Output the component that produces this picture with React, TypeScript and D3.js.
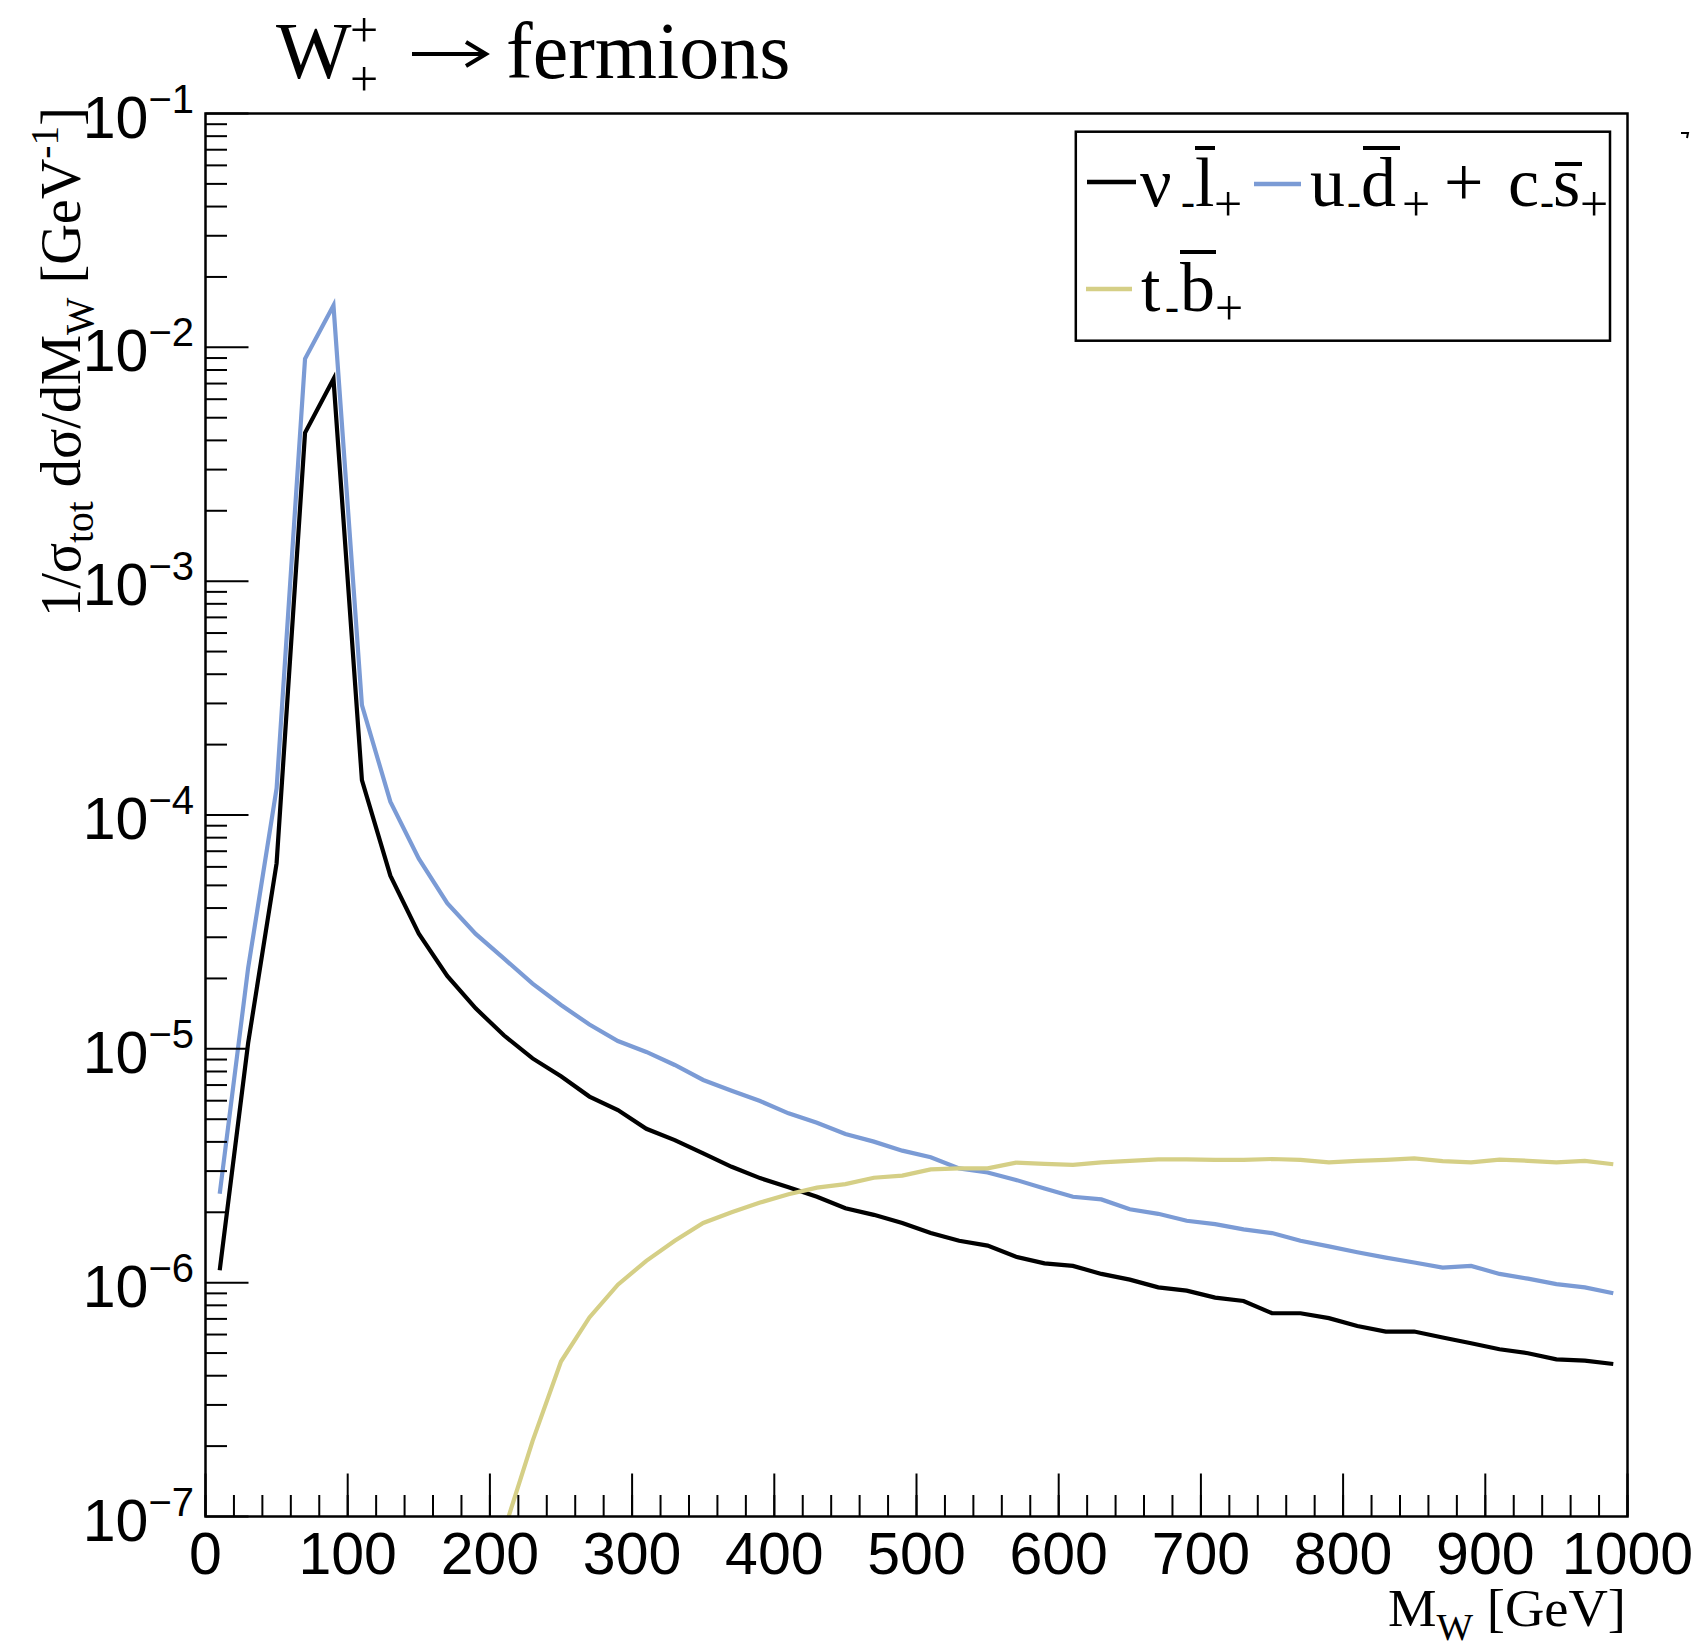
import React from 'react';
import * as d3 from 'd3';

// bin centres of M_W [GeV]
const massBins = [
  10, 30, 50, 70, 90, 110, 130, 150, 170, 190,
  210, 230, 250, 270, 290, 310, 330, 350, 370, 390,
  410, 430, 450, 470, 490, 510, 530, 550, 570, 590,
  610, 630, 650, 670, 690, 710, 730, 750, 770, 790,
  810, 830, 850, 870, 890, 910, 930, 950, 970, 990,
];

// nu l-bar
const nuLepton = [
  1.13e-6, 1.06e-5, 6.22e-5, 4.31e-3, 7.32e-3, 1.41e-4, 5.5e-5, 3.11e-5, 2.05e-5, 1.49e-5,
  1.14e-5, 9.1e-6, 7.63e-6, 6.25e-6, 5.47e-6, 4.55e-6, 4.07e-6, 3.57e-6, 3.13e-6, 2.8e-6,
  2.56e-6, 2.33e-6, 2.08e-6, 1.95e-6, 1.8e-6, 1.63e-6, 1.51e-6, 1.44e-6, 1.29e-6, 1.21e-6,
  1.18e-6, 1.09e-6, 1.03e-6, 9.55e-7, 9.24e-7, 8.63e-7, 8.35e-7, 7.4e-7, 7.4e-7, 7.05e-7,
  6.53e-7, 6.18e-7, 6.18e-7, 5.83e-7, 5.51e-7, 5.19e-7, 4.99e-7, 4.7e-7, 4.64e-7, 4.49e-7,
];

// u d-bar + c s-bar
const udCs = [
  2.4e-6, 2.22e-5, 1.3e-4, 8.93e-3, 1.51e-2, 2.95e-4, 1.14e-4, 6.5e-5, 4.2e-5, 3.1e-5,
  2.43e-5, 1.9e-5, 1.54e-5, 1.27e-5, 1.08e-5, 9.7e-6, 8.53e-6, 7.36e-6, 6.62e-6, 5.98e-6,
  5.3e-6, 4.83e-6, 4.32e-6, 4.01e-6, 3.67e-6, 3.44e-6, 3.08e-6, 2.96e-6, 2.75e-6, 2.53e-6,
  2.33e-6, 2.27e-6, 2.06e-6, 1.97e-6, 1.84e-6, 1.78e-6, 1.69e-6, 1.63e-6, 1.51e-6, 1.43e-6,
  1.35e-6, 1.28e-6, 1.22e-6, 1.16e-6, 1.18e-6, 1.09e-6, 1.04e-6, 9.86e-7, 9.55e-7, 9.01e-7,
];

// t b-bar (empty below threshold)
const topBottom = [
  null, null, null, null, null, null, null, null, null, null,
  8.7e-8, 2.1e-7, 4.6e-7, 7.1e-7, 9.8e-7, 1.24e-6, 1.51e-6, 1.8e-6, 2.0e-6, 2.2e-6,
  2.39e-6, 2.55e-6, 2.64e-6, 2.81e-6, 2.87e-6, 3.05e-6, 3.08e-6, 3.08e-6, 3.26e-6, 3.22e-6,
  3.19e-6, 3.27e-6, 3.32e-6, 3.37e-6, 3.37e-6, 3.35e-6, 3.35e-6, 3.38e-6, 3.35e-6, 3.27e-6,
  3.32e-6, 3.35e-6, 3.4e-6, 3.31e-6, 3.27e-6, 3.36e-6, 3.32e-6, 3.27e-6, 3.32e-6, 3.21e-6,
];

const xTickLabels = ['0', '100', '200', '300', '400', '500', '600', '700', '800', '900', '1000'];
const yDecades = [-7, -6, -5, -4, -3, -2, -1];

const W = 1691;
const H = 1646;
const frame = { left: 205.5, right: 1627.5, top: 113.5, bottom: 1516.5 };
const SERIF = '"Liberation Serif", "Times New Roman", serif';
const SANS = '"Liberation Sans", Arial, Helvetica, sans-serif';

const BLACK = '#000000';
const BLUE = '#7b9bd5';
const YELLOW = '#d5cf86';

type Pt = [number, number | null];

export default function App() {
  const x = d3.scaleLinear().domain([0, 1000]).range([frame.left, frame.right]);
  const y = d3.scaleLog().domain([1e-7, 1e-1]).range([frame.bottom, frame.top]);

  const line = d3
    .line<Pt>()
    .defined((d) => d[1] != null && (d[1] as number) > 0)
    .x((d) => x(d[0]))
    .y((d) => y(d[1] as number));

  const series = [
    { values: nuLepton, color: BLACK },
    { values: udCs, color: BLUE },
    { values: topBottom, color: YELLOW },
  ];

  const xMinor = x.ticks(50);
  const xMajor = x.ticks(10);
  const yAll = y.ticks();
  const isMajorY = (v: number) => Math.abs(Math.log10(v) - Math.round(Math.log10(v))) < 1e-6;

  // small helper for legend glyph pieces
  const piece = (t: string, px: number, py: number, size: number, key: string) => (
    <text key={key} x={px} y={py} fontFamily={SERIF} fontSize={size} fill="#000">
      {t}
    </text>
  );

  return (
    <svg
      width={W}
      height={H}
      style={{ position: 'absolute', left: 0, top: 0, background: '#fff' }}
      xmlns="http://www.w3.org/2000/svg"
    >
      <rect x={0} y={0} width={W} height={H} fill="#fff" />
      <defs>
        <clipPath id="frameClip">
          <rect x={frame.left} y={frame.top} width={frame.right - frame.left} height={frame.bottom - frame.top} />
        </clipPath>
      </defs>

      {/* title */}
      <g fontFamily={SERIF} fill="#000">
        <text x={276} y={78} fontSize={80}>W</text>
        <text x={350} y={47} fontSize={50}>+</text>
        <text x={350} y={96} fontSize={50}>+</text>
        <text x={506} y={78} fontSize={80}>fermions</text>
      </g>
      <g fill="none" stroke="#000" strokeWidth={4}>
        <line x1={412} x2={484} y1={54} y2={54} />
        <path d="M466,42 L486,54 L466,66" strokeLinejoin="miter" />
      </g>

      {/* curves */}
      <g clipPath="url(#frameClip)" fill="none" strokeWidth={4.2} strokeLinejoin="miter">
        {series.map((s, i) => (
          <path
            key={i}
            d={line(massBins.map((m, j) => [m, s.values[j]] as Pt)) || ''}
            stroke={s.color}
          />
        ))}
      </g>

      {/* frame */}
      <rect
        x={frame.left}
        y={frame.top}
        width={frame.right - frame.left}
        height={frame.bottom - frame.top}
        fill="none"
        stroke="#000"
        strokeWidth={2.5}
      />

      {/* x ticks */}
      <g stroke="#000" strokeWidth={2}>
        {xMinor.map((v) => (
          <line key={'xm' + v} x1={x(v)} x2={x(v)} y1={frame.bottom} y2={frame.bottom - 21.5} />
        ))}
        {xMajor.map((v) => (
          <line key={'xM' + v} x1={x(v)} x2={x(v)} y1={frame.bottom} y2={frame.bottom - 43} />
        ))}
      </g>
      <g fontFamily={SANS} fontSize={59} textAnchor="middle" fill="#000">
        {xTickLabels.map((t) => (
          <text key={'xl' + t} x={x(+t)} y={1574}>
            {t}
          </text>
        ))}
      </g>

      {/* y ticks */}
      <g stroke="#000" strokeWidth={2}>
        {yAll.map((v) => (
          <line
            key={'y' + v}
            x1={frame.left}
            x2={frame.left + (isMajorY(v) ? 43 : 21.5)}
            y1={y(v)}
            y2={y(v)}
          />
        ))}
      </g>
      <g fontFamily={SANS} fill="#000" textAnchor="end">
        {yDecades.map((k) => (
          <text key={'yl' + k} x={194} y={y(Math.pow(10, k)) + 24} fontSize={59}>
            10
            <tspan fontSize={40} dy={-25}>
              {'\u2212' + Math.abs(k)}
            </tspan>
          </text>
        ))}
      </g>

      {/* axis titles */}
      <text
        x={1626}
        y={1626}
        fontFamily={SERIF}
        fontSize={52}
        textAnchor="end"
        textLength={238}
        lengthAdjust="spacingAndGlyphs"
        fill="#000"
      >
        M
        <tspan fontSize={37} dy={14}>W</tspan>
        <tspan dy={-14}> [GeV]</tspan>
      </text>
      <text
        transform="translate(80,617) rotate(-90)"
        fontFamily={SERIF}
        fontSize={57}
        textLength={510}
        lengthAdjust="spacingAndGlyphs"
        fill="#000"
      >
        1/σ
        <tspan fontSize={40} dy={13}>tot</tspan>
        <tspan dy={-13}> dσ/dM</tspan>
        <tspan fontSize={40} dy={13}>W</tspan>
        <tspan dy={-13}> [GeV</tspan>
        <tspan fontSize={40} dy={-22}>-1</tspan>
        <tspan dy={22}>]</tspan>
      </text>

      {/* legend */}
      <rect x={1075.8} y={131.7} width={534.2} height={209} fill="#fff" stroke="#000" strokeWidth={2.5} />
      <g strokeWidth={4.5}>
        <line x1={1087} x2={1136} y1={182} y2={182} stroke={BLACK} />
        <line x1={1254} x2={1301} y1={184} y2={184} stroke={BLUE} />
        <line x1={1086} x2={1132} y1={289} y2={289} stroke={YELLOW} />
      </g>
      <g>
        {piece('ν', 1140, 206, 70, 'a1')}
        {piece('-', 1181, 215, 42, 'a2')}
        {piece('l', 1195, 206, 70, 'a3')}
        {piece('+', 1214, 221, 50, 'a4')}

        {piece('u', 1310, 206, 70, 'b1')}
        {piece('-', 1347, 215, 42, 'b2')}
        {piece('d', 1361, 206, 70, 'b3')}
        {piece('+', 1402, 221, 50, 'b4')}
        {piece('+', 1444, 206, 70, 'b5')}
        {piece('c', 1508, 206, 70, 'b6')}
        {piece('-', 1540, 215, 42, 'b7')}
        {piece('s', 1553, 206, 70, 'b8')}
        {piece('+', 1580, 221, 50, 'b9')}

        {piece('t', 1141, 311, 70, 'c1')}
        {piece('-', 1165, 320, 42, 'c2')}
        {piece('b', 1180, 311, 70, 'c3')}
        {piece('+', 1215, 325, 50, 'c4')}
      </g>
      <g stroke="#000" strokeWidth={4}>
        <line x1={1195} x2={1215} y1={148} y2={148} />
        <line x1={1363} x2={1400} y1={148} y2={148} />
        <line x1={1555} x2={1582} y1={164} y2={164} />
        <line x1={1180} x2={1216} y1={252} y2={252} />
      </g>

      {/* stray clipped mark at the right edge */}
      <path d="M1681,133 L1688,133 L1687,138" fill="none" stroke="#000" strokeWidth={2} />
    </svg>
  );
}
